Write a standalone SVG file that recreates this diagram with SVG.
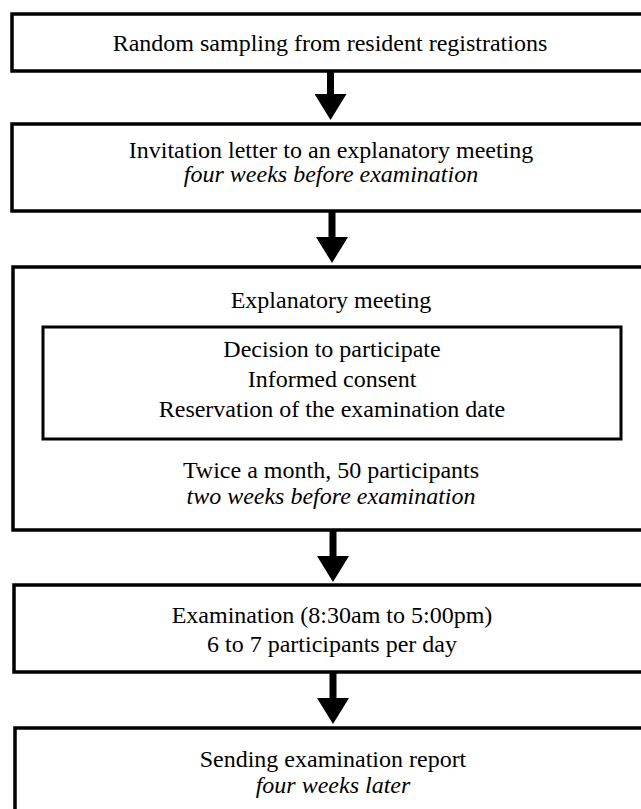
<svg xmlns="http://www.w3.org/2000/svg" width="641" height="809" viewBox="0 0 641 809">
<style>
.box{fill:none;stroke:#000;stroke-width:3.5}
.ibox{fill:none;stroke:#000;stroke-width:3}
text{font-family:"Liberation Serif","Times New Roman",serif;font-size:24px;fill:#000;text-anchor:middle}
.it{font-style:italic}
.conn{stroke:#000;stroke-width:7;fill:none}
</style>
<defs>
<marker id="ah" markerUnits="userSpaceOnUse" viewBox="0 0 26 32" markerWidth="26" markerHeight="32" refX="0" refY="16" orient="auto">
<path d="M0,0 L26,16 L0,32 z" fill="#000"/>
</marker>
</defs>
<rect x="0" y="0" width="641" height="809" fill="#fff"/>
<g id="connectors">
<line class="conn" x1="330.5" y1="71" x2="330.5" y2="94" marker-end="url(#ah)"/>
<line class="conn" x1="332" y1="211" x2="332" y2="237" marker-end="url(#ah)"/>
<line class="conn" x1="333" y1="530" x2="333" y2="556" marker-end="url(#ah)"/>
<line class="conn" x1="333" y1="672" x2="333" y2="698" marker-end="url(#ah)"/>
</g>
<g id="n1">
<rect class="box" x="12" y="14" width="640" height="57"/>
<text x="330" y="51">Random sampling from resident registrations</text>
</g>
<g id="n2">
<rect class="box" x="12" y="124" width="640" height="87"/>
<text x="331" y="158">Invitation letter to an explanatory meeting</text>
<text class="it" x="331" y="182">four weeks before examination</text>
</g>
<g id="n3">
<rect class="box" x="13" y="267" width="640" height="263"/>
<text x="331" y="308">Explanatory meeting</text>
<text x="331" y="478">Twice a month, 50 participants</text>
<text class="it" x="331" y="504">two weeks before examination</text>
</g>
<g id="n3a">
<rect class="ibox" x="43" y="327" width="578" height="112"/>
<text x="332" y="357">Decision to participate</text>
<text x="332" y="387">Informed consent</text>
<text x="332" y="417">Reservation of the examination date</text>
</g>
<g id="n4">
<rect class="box" x="14" y="585" width="640" height="87"/>
<text x="332" y="623">Examination (8:30am to 5:00pm)</text>
<text x="332" y="652">6 to 7 participants per day</text>
</g>
<g id="n5">
<rect class="box" x="15" y="728" width="640" height="100"/>
<text x="333" y="767">Sending examination report</text>
<text class="it" x="333" y="793">four weeks later</text>
</g>
</svg>
